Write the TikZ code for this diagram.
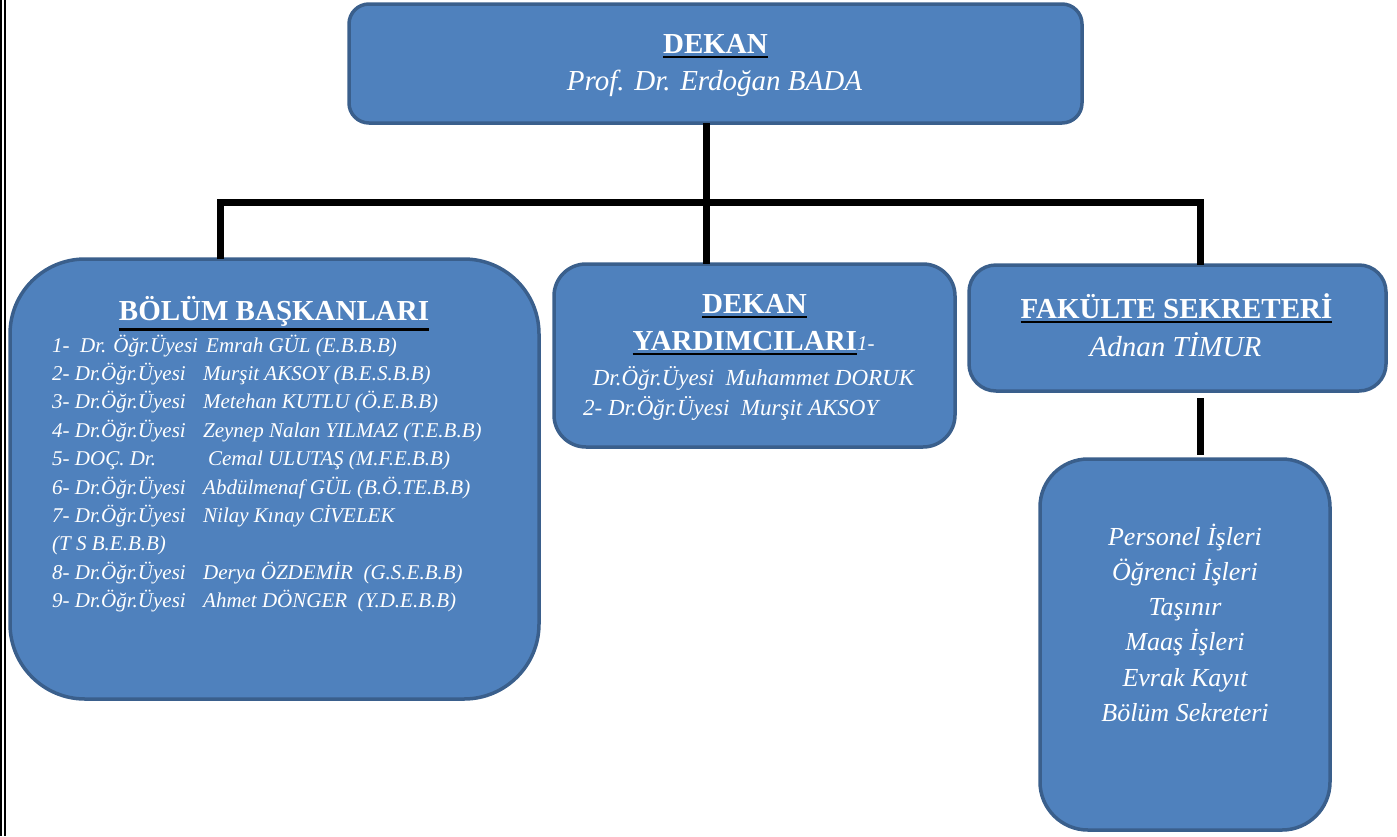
\documentclass[tikz,border=0pt]{standalone}
\usepackage{fontspec}
\setmainfont{Liberation Serif}
\usetikzlibrary{calc}
\definecolor{boxfill}{HTML}{4F81BD}
\definecolor{boxline}{HTML}{3A5F8C}
\newcommand{\ulin}[1]{\vtop{\hbox{#1}\kern2.5pt{\color{black}\hrule height 2.6pt}}}
\newcommand{\pre}[2]{\makebox[#1][l]{#2}}
\begin{document}
\begin{tikzpicture}[x=1pt,y=-1pt,
  box/.style={draw=boxline, fill=boxfill, line width=3.5pt, inner sep=0pt, outer sep=0pt},
  conn/.style={line width=7pt, black},
  ttl/.style={text=white, inner sep=0pt, anchor=base, font=\fontsize{29}{35}\selectfont\bfseries},
  nm/.style={text=white, inner sep=0pt, anchor=base, font=\fontsize{29}{35}\selectfont\itshape},
  item/.style={text=white, inner sep=0pt, anchor=base west, font=\fontsize{21}{28}\selectfont\itshape},
  yitem/.style={text=white, inner sep=0pt, font=\fontsize{23}{28}\selectfont\itshape},
  sitem/.style={text=white, inner sep=0pt, anchor=base, font=\fontsize{26}{32}\selectfont\itshape}]
\useasboundingbox (0,0) rectangle (1397,836);
% left double frame line
\draw[line width=2pt] (1,0) -- (1,836);
\draw[line width=2pt] (5,0) -- (5,836);
% boxes
\node[box, minimum width=733pt, minimum height=119pt, rounded corners=20pt] (dekan) at (715.5,63.5) {};
\node[box, minimum width=529pt, minimum height=440pt, rounded corners=75pt] (bolum) at (274.5,479) {};
\node[box, minimum width=401pt, minimum height=183pt, rounded corners=32pt] (yard) at (754.5,355.5) {};
\node[box, minimum width=417pt, minimum height=126pt, rounded corners=27pt] (fak) at (1177.5,328) {};
\node[box, minimum width=290pt, minimum height=371pt, rounded corners=48pt] (sub) at (1185,644.5) {};
% connectors
\coordinate (jl) at (220,202);
\coordinate (jc) at (706,202);
\coordinate (jr) at (1200,202);
\draw[conn] (dekan.south -| jc) -- (yard.north -| jc);
\draw[conn] (bolum.north -| jl) -- (jl) -- (jr) -- (fak.north -| jr);
\draw[conn] ($(fak.south -| jr)+(0,7)$) -- ($(sub.north -| jr)+(0,-4)$);
% DEKAN texts
\node[ttl] (tdekan) at (715.5,53) {\ulin{DEKAN}};
\node[nm] (ndekan) at (714.5,90) {Prof. Dr. Erdoğan BADA};
% BOLUM texts
\node[ttl] (tbolum) at (274,320) {\ulin{BÖLÜM BAŞKANLARI}};
\node[item] (b1) at (52,352) {\pre{154pt}{1-\ \ Dr. Öğr.Üyesi}Emrah GÜL (E.B.B.B)};
\node[item] (b2) at (52,380.4) {\pre{151pt}{2- Dr.Öğr.Üyesi}Murşit AKSOY (B.E.S.B.B)};
\node[item] (b3) at (52,408.8) {\pre{151pt}{3- Dr.Öğr.Üyesi}Metehan KUTLU (Ö.E.B.B)};
\node[item] (b4) at (52,437.2) {\pre{151pt}{4- Dr.Öğr.Üyesi}Zeynep Nalan YILMAZ (T.E.B.B)};
\node[item] (b5) at (52,465.6) {\pre{156pt}{5- DOÇ. Dr.}Cemal ULUTAŞ (M.F.E.B.B)};
\node[item] (b6) at (52,494) {\pre{151pt}{6- Dr.Öğr.Üyesi}Abdülmenaf GÜL (B.Ö.TE.B.B)};
\node[item] (b7) at (52,522.4) {\pre{151pt}{7- Dr.Öğr.Üyesi}Nilay Kınay CİVELEK};
\node[item] (b7b) at (52,550.8) {(T S B.E.B.B)};
\node[item] (b8) at (52,579.2) {\pre{151pt}{8- Dr.Öğr.Üyesi}Derya ÖZDEMİR\ \ (G.S.E.B.B)};
\node[item] (b9) at (52,607.6) {\pre{151pt}{9- Dr.Öğr.Üyesi}Ahmet DÖNGER\ \ (Y.D.E.B.B)};
% YARDIMCI texts
\node[ttl] (tyard1) at (754.5,313) {\ulin{DEKAN}};
\node[ttl] (tyard2) at (753.5,350) {\ulin{YARDIMCILARI}{\fontsize{21}{28}\selectfont\mdseries\itshape 1-}};
\node[yitem, anchor=base] (y1) at (753.5,385) {Dr.Öğr.Üyesi\ \ Muhammet DORUK};
\node[yitem, anchor=base west] (y2) at (583,415) {2- Dr.Öğr.Üyesi\ \ Murşit AKSOY};
% FAKULTE texts
\node[ttl] (tfak) at (1176.5,318) {\ulin{FAKÜLTE SEKRETERİ}};
\node[nm] (nfak) at (1175.5,356) {Adnan TİMUR};
% sub texts
\node[sitem] (s1) at (1185,545) {Personel İşleri};
\node[sitem] (s2) at (1185,580.3) {Öğrenci İşleri};
\node[sitem] (s3) at (1185,615.6) {Taşınır};
\node[sitem] (s4) at (1185,650.9) {Maaş İşleri};
\node[sitem] (s5) at (1185,686.2) {Evrak Kayıt};
\node[sitem] (s6) at (1185,721.5) {Bölüm Sekreteri};
\end{tikzpicture}
\end{document}
